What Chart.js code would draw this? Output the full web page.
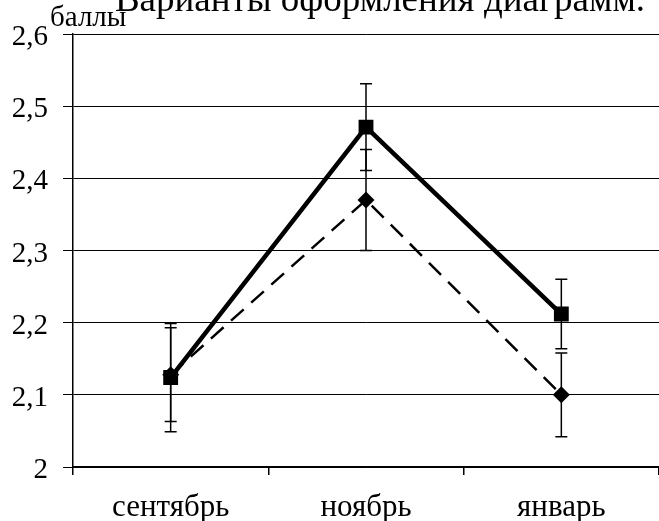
<!DOCTYPE html>
<html lang="ru">
<head>
<meta charset="UTF-8">
<title>Варианты оформления диаграмм</title>
<script src="https://cdn.jsdelivr.net/npm/chart.js@4/dist/chart.umd.min.js"></script>
<style>
  html, body { margin: 0; padding: 0; background: #fff; }
  #wrap { width: 659px; height: 521px; }
</style>
</head>
<body>
<div id="wrap"><canvas id="chart"></canvas></div>
<script>
// data
const months = ['сентябрь', 'ноябрь', 'январь'];
const solidValues = [2.124, 2.471, 2.212];
const solidErrors = [0.075, 0.06, 0.048];
const dashedValues = [2.128, 2.37, 2.10];
const dashedErrors = [0.065, 0.07, 0.058];
const yTicks = [2, 2.1, 2.2, 2.3, 2.4, 2.5, 2.6];
const titleText = 'Варианты оформления диаграмм.';
const unitText = 'баллы';

const serif = "'Liberation Serif', 'DejaVu Serif', serif";

function drawText(ctx, text, x, y, size, align) {
  ctx.save();
  ctx.font = size + 'px ' + serif;
  ctx.textAlign = align;
  ctx.textBaseline = 'alphabetic';
  ctx.fillText(text, x, y);
  ctx.restore();
}

const fmt = v => String(Math.round(v * 10) / 10).replace('.', ',');

// error bars, under the markers
const errorBars = {
  id: 'errorBars',
  beforeDatasetsDraw(chart) {
    const ctx = chart.ctx;
    const y = chart.scales.y;
    const errs = [solidErrors, dashedErrors];
    ctx.save();
    ctx.strokeStyle = '#000';
    ctx.lineWidth = 1.5;
    chart.data.datasets.forEach((ds, i) => {
      const meta = chart.getDatasetMeta(i);
      meta.data.forEach((pt, j) => {
        const v = ds.data[j];
        const top = y.getPixelForValue(v + errs[i][j]);
        const bot = y.getPixelForValue(v - errs[i][j]);
        ctx.beginPath();
        ctx.moveTo(pt.x, top);
        ctx.lineTo(pt.x, bot);
        ctx.moveTo(pt.x - 6, top);
        ctx.lineTo(pt.x + 6, top);
        ctx.moveTo(pt.x - 6, bot);
        ctx.lineTo(pt.x + 6, bot);
        ctx.stroke();
      });
    });
    ctx.restore();
  }
};

// title (cut off at the top), unit label and axis labels
const texts = {
  id: 'texts',
  afterDraw(chart) {
    const ctx = chart.ctx;
    const x = chart.scales.x;
    const y = chart.scales.y;
    ctx.save();
    ctx.fillStyle = '#000';
    drawText(ctx, titleText, 380, 11, 37, 'center');
    drawText(ctx, unitText, 50, 26, 29, 'left');
    y.ticks.forEach(t => {
      drawText(ctx, fmt(t.value), 48, y.getPixelForValue(t.value) + 11, 29, 'right');
    });
    months.forEach((m, i) => {
      drawText(ctx, m, x.getPixelForTick(i), 516, 31, 'center');
    });
    ctx.restore();
  }
};

new Chart(document.getElementById('chart'), {
  type: 'line',
  data: {
    labels: months,
    datasets: [
      {
        data: solidValues,
        borderColor: '#000',
        backgroundColor: '#000',
        borderWidth: 4.5,
        pointStyle: 'rect',
        pointRadius: 10.5,
        pointBorderWidth: 0,
        tension: 0
      },
      {
        data: dashedValues,
        borderColor: '#000',
        backgroundColor: '#000',
        borderWidth: 2.5,
        borderDash: [17, 10],
        pointStyle: 'rectRot',
        pointRadius: 8.5,
        pointBorderWidth: 0,
        tension: 0
      }
    ]
  },
  options: {
    responsive: true,
    maintainAspectRatio: false,
    animation: false,
    layout: { autoPadding: false, padding: { top: 34, right: 0, left: 0, bottom: 0 } },
    plugins: {
      legend: { display: false },
      tooltip: { enabled: false }
    },
    scales: {
      x: {
        offset: true,
        grid: { offset: true, drawOnChartArea: false, drawTicks: true, tickLength: 8, color: '#000', lineWidth: 1.5 },
        border: { color: '#000', width: 1.5 },
        ticks: { display: false },
        afterFit(s) { s.height = 54; }
      },
      y: {
        min: 2,
        max: 2.6,
        afterBuildTicks(s) { s.ticks = yTicks.map(v => ({ value: v })); },
        grid: { color: '#000', lineWidth: 1, tickLength: 10 },
        border: { color: '#000', width: 1.5 },
        ticks: { display: false },
        afterFit(s) { s.width = 73; }
      }
    }
  },
  plugins: [errorBars, texts]
});
</script>
</body>
</html>
